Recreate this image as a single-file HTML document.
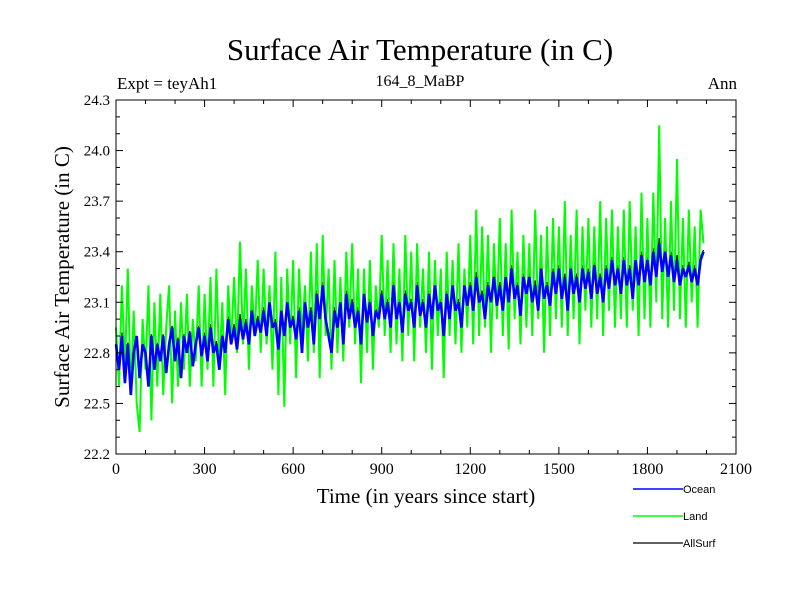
<!DOCTYPE html>
<html><head><meta charset="utf-8"><style>
body{margin:0;background:#fff;}
svg{display:block;font-family:"Liberation Serif",serif;}
</style></head><body>
<svg id="chart" width="800" height="600" xmlns="http://www.w3.org/2000/svg">
<text x="420" y="60" font-size="31" text-anchor="middle">Surface Air Temperature (in C)</text>
<text x="117" y="89" font-size="17">Expt = teyAh1</text>
<text x="420" y="86" font-size="16" text-anchor="middle">164_8_MaBP</text>
<text x="737" y="89" font-size="17" text-anchor="end">Ann</text>
<text transform="translate(69,277) rotate(-90)" font-size="21" text-anchor="middle">Surface Air Temperature (in C)</text>
<text x="426" y="503" font-size="21" text-anchor="middle">Time (in years since start)</text>
<g id="series"></g>
<g id="axes"></g>
<g font-family="Liberation Sans, sans-serif" font-size="11">
<line x1="633" y1="489" x2="683" y2="489" stroke="#0000ff" stroke-width="1.5"/>
<text x="683" y="493">Ocean</text>
<line x1="633" y1="516" x2="683" y2="516" stroke="#00ff00" stroke-width="1.5"/>
<text x="683" y="520">Land</text>
<line x1="633" y1="543" x2="683" y2="543" stroke="#000" stroke-width="1.2"/>
<text x="683" y="547">AllSurf</text>
</g>
</svg>
<script>
const xTicks = [0,300,600,900,1200,1500,1800,2100];
const yTicks = [22.2,22.5,22.8,23.1,23.4,23.7,24.0,24.3];
const landValues = [
22.95,22.6,23.2,22.7,23.3,22.55,23.05,22.5,22.33,23.0,
22.7,23.2,22.4,23.1,22.6,23.15,22.55,22.95,23.2,22.5,
23.05,22.6,23.1,22.7,23.15,22.6,23.0,22.75,23.2,22.6,
23.15,22.7,23.25,22.6,23.3,22.7,23.1,22.55,23.2,22.85,
23.25,22.8,23.46,22.85,23.3,22.7,23.2,22.9,23.35,22.8,
23.3,22.85,23.2,22.7,23.4,22.55,23.25,22.48,23.3,22.85,
23.35,22.65,23.3,22.9,23.2,22.75,23.4,22.8,23.45,22.65,
23.5,22.9,23.3,22.7,23.35,22.8,23.25,22.75,23.4,22.95,
23.45,22.85,23.3,22.62,23.3,22.8,23.35,22.7,23.2,22.95,
23.5,22.9,23.35,22.8,23.45,22.85,23.3,22.75,23.5,22.9,
23.4,22.75,23.45,22.95,23.3,22.8,23.4,22.7,23.35,22.9,
23.3,22.65,23.4,22.9,23.35,22.85,23.45,22.8,23.3,22.95,
23.5,22.85,23.65,22.9,23.55,22.95,23.5,22.8,23.45,23.0,
23.6,22.9,23.45,22.82,23.65,23.0,23.4,22.85,23.5,22.95,
23.45,22.9,23.65,23.0,23.5,22.8,23.55,22.9,23.6,23.0,
23.55,22.95,23.7,22.9,23.5,23.0,23.65,22.85,23.55,23.05,
23.6,22.95,23.55,23.0,23.7,22.9,23.6,23.05,23.65,22.95,
23.55,23.0,23.65,22.95,23.7,23.05,23.55,22.9,23.75,23.0,
23.6,22.95,23.75,23.1,24.15,23.0,23.6,22.95,23.7,23.05,
23.95,23.0,23.6,22.95,23.65,23.1,23.55,22.95,23.65,23.45];
const oceanValues = [
22.85,22.7,22.9,22.62,22.85,22.55,22.8,22.9,22.65,22.85,
22.8,22.6,22.9,22.7,22.85,22.75,22.9,22.68,22.85,22.95,
22.75,22.88,22.65,22.9,22.8,22.92,22.72,22.85,22.95,22.78,
22.9,22.75,22.95,22.8,22.85,22.7,22.9,22.8,23.0,22.85,
22.95,22.82,23.0,22.88,22.98,22.85,23.05,22.9,23.0,22.92,
23.05,22.9,23.1,22.95,22.98,22.82,23.05,22.9,23.1,22.95,
23.0,22.88,23.05,22.8,23.1,22.95,23.05,22.85,23.15,23.0,
23.2,23.0,22.9,22.8,23.05,22.95,23.1,22.85,23.15,23.0,
23.1,22.95,23.05,22.85,23.15,22.98,23.1,22.9,23.05,23.0,
23.15,23.0,23.1,22.95,23.2,23.0,23.1,22.92,23.15,23.05,
23.1,22.95,23.2,23.02,23.1,22.95,23.15,23.0,23.2,23.05,
23.1,22.9,23.15,23.0,23.2,23.05,23.1,22.95,23.2,23.08,
23.2,23.05,23.25,23.1,23.15,23.0,23.2,23.1,23.25,23.08,
23.2,23.05,23.25,23.1,23.3,23.12,23.2,23.02,23.25,23.15,
23.25,23.1,23.2,23.05,23.3,23.12,23.2,23.08,23.28,23.15,
23.3,23.12,23.25,23.05,23.3,23.15,23.25,23.1,23.3,23.18,
23.28,23.12,23.32,23.15,23.25,23.1,23.3,23.18,23.35,23.2,
23.3,23.15,23.35,23.2,23.3,23.12,23.35,23.2,23.38,23.22,
23.35,23.2,23.4,23.25,23.45,23.28,23.4,23.25,23.38,23.22,
23.35,23.2,23.3,23.25,23.32,23.22,23.3,23.2,23.35,23.4];
const allSurfValues = [
22.86,22.72,22.92,22.64,22.86,22.57,22.82,22.9,22.66,22.86,
22.82,22.62,22.91,22.72,22.86,22.77,22.91,22.7,22.87,22.96,
22.77,22.89,22.67,22.91,22.82,22.93,22.74,22.86,22.96,22.79,
22.92,22.76,22.97,22.8,22.87,22.71,22.91,22.8,23.02,22.86,
22.97,22.83,23.03,22.89,23.0,22.85,23.06,22.91,23.02,22.92,
23.07,22.91,23.11,22.95,23.0,22.82,23.07,22.9,23.12,22.96,
23.02,22.88,23.07,22.82,23.11,22.96,23.07,22.86,23.17,23.0,
23.22,23.01,22.92,22.81,23.07,22.96,23.11,22.86,23.17,23.01,
23.12,22.96,23.07,22.85,23.16,22.98,23.12,22.9,23.06,23.01,
23.17,23.01,23.12,22.96,23.22,23.01,23.12,22.93,23.17,23.06,
23.12,22.96,23.22,23.03,23.12,22.96,23.17,23.0,23.22,23.06,
23.12,22.9,23.17,23.01,23.22,23.06,23.12,22.96,23.22,23.09,
23.22,23.06,23.28,23.11,23.17,23.01,23.22,23.1,23.27,23.09,
23.22,23.06,23.27,23.1,23.32,23.13,23.22,23.03,23.27,23.16,
23.27,23.11,23.23,23.06,23.32,23.12,23.22,23.09,23.3,23.16,
23.32,23.13,23.27,23.06,23.32,23.16,23.27,23.1,23.32,23.19,
23.3,23.13,23.34,23.16,23.27,23.1,23.32,23.19,23.37,23.2,
23.32,23.16,23.37,23.2,23.32,23.13,23.37,23.2,23.4,23.23,
23.37,23.2,23.42,23.26,23.48,23.28,23.42,23.25,23.4,23.23,
23.38,23.2,23.32,23.25,23.34,23.23,23.32,23.2,23.37,23.41];
const oceanStep = 10, landStep = 10, allSurfStep = 10;

const L=116,R=736,T=100,B=454;
const xMin=0,xMax=2100,yMin=22.2,yMax=24.3;
function xs(v){return L+(v-xMin)/(xMax-xMin)*(R-L);}
function ys(v){return B-(v-yMin)/(yMax-yMin)*(B-T);}
const NS="http://www.w3.org/2000/svg";
function mk(tag,attrs,parent){const e=document.createElementNS(NS,tag);for(const k in attrs)e.setAttribute(k,attrs[k]);parent.appendChild(e);return e;}
const sg=document.getElementById('series');
function line(vals,step,color,w,name){
  const pts=vals.map((v,i)=>xs(i*step).toFixed(1)+','+ys(v).toFixed(1)).join(' ');
  const p=mk('polyline',{points:pts,fill:'none',stroke:color,'stroke-width':w,'stroke-linejoin':'miter','stroke-miterlimit':2},sg);
  
  
}
line(allSurfValues,allSurfStep,'#000',1.2,'allsurf-line');
line(landValues,landStep,'#00ff00',2,'land-line');
line(oceanValues,oceanStep,'#0000ff',2.6,'ocean-line');

const ag=document.getElementById('axes');
const frame=mk('rect',{x:L,y:T,width:R-L,height:B-T,fill:'none',stroke:'#000','stroke-width':1},ag);


for(let v=0;v<=2100;v+=100){
  const major=v%300===0, len=major?7:4, x=xs(v);
  const t1=mk('line',{x1:x,y1:B,x2:x,y2:B-len,stroke:'#000'},ag);
  
  
  const t2=mk('line',{x1:x,y1:T,x2:x,y2:T+len,stroke:'#000'},ag);
  
  
}
for(let k=0;k<=21;k++){
  const v=22.2+k*0.1, major=k%3===0, len=major?7:4, y=ys(v);
  const t1=mk('line',{x1:L,y1:y,x2:L+len,y2:y,stroke:'#000'},ag);
  
  
  const t2=mk('line',{x1:R,y1:y,x2:R-len,y2:y,stroke:'#000'},ag);
  
  
}
xTicks.forEach(v=>{
  const t=mk('text',{x:xs(v),y:B+20,'font-size':16,'text-anchor':'middle'},ag);
  t.textContent=v;
  
  
});
yTicks.forEach(v=>{
  const t=mk('text',{x:L-6,y:ys(v)+5,'font-size':15,'text-anchor':'end'},ag);
  t.textContent=v.toFixed(1);
  
  
});
</script>
</body></html>
